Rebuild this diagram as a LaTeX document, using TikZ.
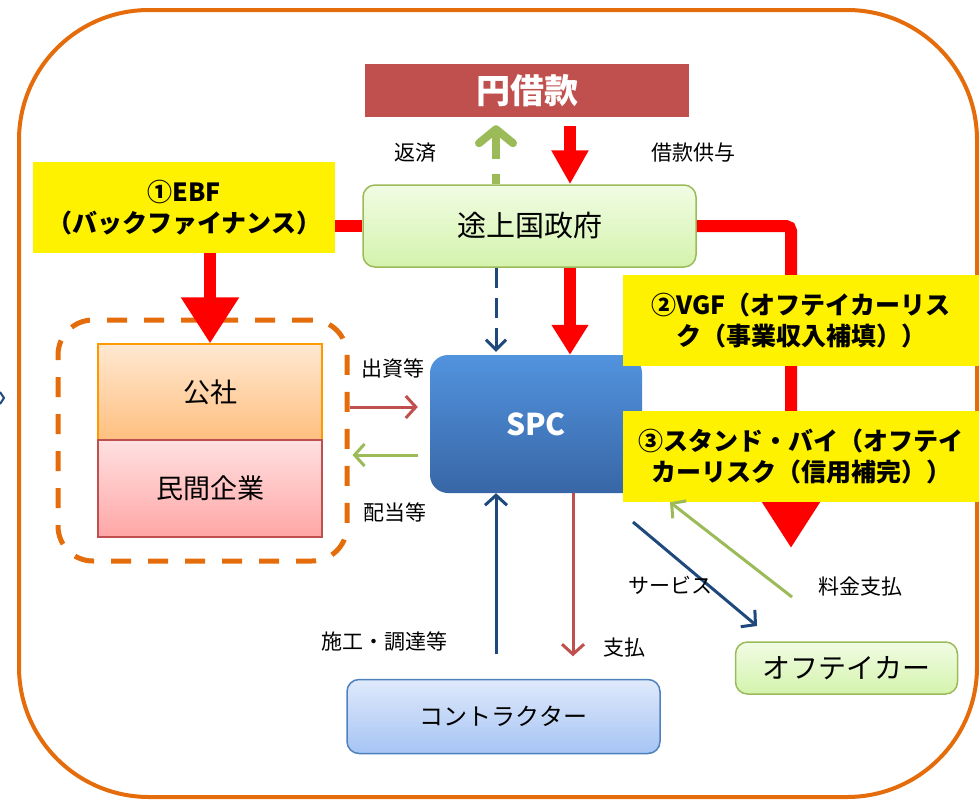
\documentclass[tikz,border=0pt]{standalone}
\usepackage{fontspec}
\setmainfont{Noto Sans CJK JP}
\usetikzlibrary{arrows.meta,calc}

\definecolor{frameorange}{HTML}{E46C0A}
\definecolor{loanred}{HTML}{C0504D}
\definecolor{flowred}{HTML}{FF0000}
\definecolor{paygreen}{HTML}{9BBB59}
\definecolor{navy}{HTML}{1F497D}
\definecolor{spctop}{HTML}{5293DE}
\definecolor{spcbot}{HTML}{3866A6}
\definecolor{govtop}{HTML}{F1FCE4}
\definecolor{govbot}{HTML}{D4F3AC}
\definecolor{contop}{HTML}{DFE9FB}
\definecolor{conbot}{HTML}{A6C4F4}
\definecolor{conline}{HTML}{4F81BD}

\begin{document}
\begin{tikzpicture}[
    x=1pt,
    y=-1pt,
    every node/.style={inner sep=0pt},
    label/.style={font=\fontsize{21}{24}\selectfont},
    schemebox/.style={font=\fontsize{25}{31}\selectfont\bfseries, fill=yellow, align=center},
    greenbox/.style={draw=paygreen, line width=1.5pt, rounded corners=12pt,
        top color=govtop, bottom color=govbot},
    bigflow/.style={draw=flowred, line width=12pt},
    thinflow/.style={line width=3pt, -{Straight Barb[length=10pt,width=22pt]}}]
    \useasboundingbox (0,0) rectangle (979,803);

    % Outer frame
    \draw[frameorange, line width=4pt, rounded corners=130pt] (19,10) rectangle (977,797);
    \draw[navy, line width=2pt] (0,392) -- (4,398) -- (0,404);

    % Boxes
    \node[fill=loanred, text=white, font=\fontsize{34}{40}\selectfont\bfseries,
        minimum width=324pt, minimum height=53pt] (yen) at (527,90.5) {円借款};
    \node[greenbox, font=\fontsize{29}{34}\selectfont,
        minimum width=333pt, minimum height=82pt] (gov) at (529.5,226) {途上国政府};
    \node[schemebox, minimum width=302pt, minimum height=91pt] (ebf) at (184,207.5)
        {①EBF\\（バックファイナンス）};
    \node[draw=frameorange, dash pattern=on 20pt off 17pt, line width=5pt, rounded corners=35pt,
        minimum width=289pt, minimum height=241pt] (grp) at (202.5,440.5) {};
    \node[draw=orange!80!yellow, line width=1.2pt, top color=orange!18!white, bottom color=orange!50!white,
        font=\fontsize{27}{32}\selectfont, minimum width=224pt, minimum height=96pt] (kosha) at (210,392) {公社};
    \node[draw=loanred, line width=1.2pt, top color=red!12!white, bottom color=red!35!white,
        font=\fontsize{27}{32}\selectfont, minimum width=224pt, minimum height=97pt] (minkan) at (210,488.5) {民間企業};
    \node[top color=spctop, bottom color=spcbot, rounded corners=18pt, text=white,
        font=\fontsize{30}{36}\selectfont\bfseries, minimum width=212pt, minimum height=138pt] (spc) at (536,424) {SPC};
    \node[greenbox, font=\fontsize{28}{33}\selectfont,
        minimum width=222pt, minimum height=52pt] (offtaker) at (846.5,668) {オフテイカー};
    \node[draw=conline, line width=1.5pt, rounded corners=12pt, top color=contop, bottom color=conbot,
        font=\fontsize{24}{29}\selectfont, minimum width=313pt, minimum height=74pt] (contractor) at (503.5,716.5) {コントラクター};

    % Red flows (behind the scheme boxes)
    \coordinate (vgfend) at (791,548);
    \draw[bigflow, rounded corners=5pt, -{Triangle[length=46pt,width=55pt]}]
        (gov.east) -- (gov.east -| vgfend) -- (vgfend);
    \draw[bigflow] (ebf.east |- gov.west) -- (gov.west);
    \draw[bigflow, -{Triangle[length=46pt,width=55pt]}] ([xshift=26pt]ebf.south) -- (kosha.north);
    \draw[bigflow, shorten <=9pt, -{Triangle[length=34pt,width=35pt]}] ([xshift=43pt]yen.south) -- ([xshift=40.5pt]gov.north);
    \draw[bigflow, -{Triangle[length=30pt,width=35pt]}] ([xshift=40.5pt]gov.south) -- ([xshift=34pt]spc.north);

    % Scheme boxes
    \node[schemebox, minimum width=356pt, minimum height=91pt] (vgf) at (801,320.5)
        {②VGF（オフテイカーリス\\ク（事業収入補填））};
    \node[schemebox, minimum width=356pt, minimum height=91pt] (standby) at (801,456.5)
        {③スタンド・バイ（オフテイ\\カーリスク（信用補完））};

    % Repayment and government funding
    \draw[paygreen, line width=8pt, dash pattern=on 10pt off 15pt on 60pt, shorten >=8pt,
        -{Straight Barb[round,length=14pt,width=34pt]}] ([xshift=-33.5pt]gov.north) -- ([xshift=-31pt]yen.south);
    \draw[navy, line width=3pt, dash pattern=on 20pt off 10pt, shorten >=3pt,
        -{Straight Barb[length=10pt,width=20pt]}] ([xshift=-33.5pt]gov.south) -- ([xshift=-40pt]spc.north);

    % Equity and dividends
    \draw[thinflow, loanred, shorten >=12pt] ([yshift=33.5pt]grp.east) -- ([yshift=17pt]spc.west);
    \draw[thinflow, paygreen, shorten <=12pt, shorten >=3pt] ([yshift=-31pt]spc.west) -- ([yshift=-14.5pt]grp.east);

    % Contractor
    \draw[thinflow, navy, shorten <=24.5pt] ([xshift=-7.5pt]contractor.north) -- ([xshift=-40pt]spc.south);
    \draw[thinflow, loanred, shorten >=22.5pt] ([xshift=37pt]spc.south) -- ([xshift=69.5pt]contractor.north);

    % Offtaker
    \coordinate (svcstart) at (633,522);
    \coordinate (svcend) at (757,626);
    \coordinate (feestart) at (792,597);
    \draw[thinflow, navy] (svcstart) -- (svcend);
    \draw[thinflow, paygreen] (feestart) -- ([xshift=-131pt]standby.south);

    % Labels
    \node[label] (repay) at (415,153) {返済};
    \node[label] (lend) at (693,153) {借款供与};
    \node[label] (equity) at (393,368) {出資等};
    \node[label] (dividend) at (395,512) {配当等};
    \node[label] (build) at (384,642) {施工・調達等};
    \node[label] (pay) at (624,648) {支払};
    \node[label] (service) at (670,585) {サービス};
    \node[label] (fee) at (860,587) {料金支払};
\end{tikzpicture}
\end{document}
